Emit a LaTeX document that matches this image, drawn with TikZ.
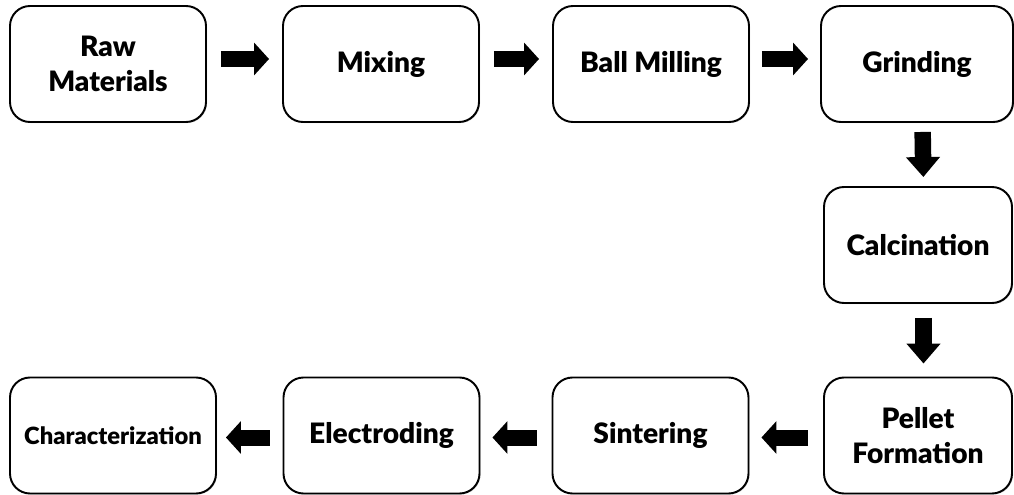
\documentclass[tikz,border=0pt]{standalone}
\usepackage{fontspec}
\setmainfont{Lato}[BoldFont={Lato Black}]
\usepackage{tikz}
\usetikzlibrary{arrows.meta,positioning,calc,shadows}

\begin{document}
\begin{tikzpicture}[font=\fontsize{16}{20}\selectfont\bfseries,
  stage/.style={draw=black,fill=white,line width=1.1pt,rounded corners=0.4cm,
                minimum width=3.92cm,minimum height=2.32cm,align=center,
                drop shadow={shadow xshift=0.6pt,shadow yshift=-0.6pt,opacity=0.35}},
  flow/.style={line width=0.32cm,-{Triangle[length=0.3cm,width=0.64cm]}},
  flowdown/.style={line width=0.33cm,-{Triangle[length=0.4cm,width=0.66cm]}}]

\useasboundingbox (0,0) rectangle (20.28,-9.9);

% ---------------- top row ---------------------------------------------------
\node[stage] (raw) at (2.16,-1.28) {Raw\\Materials};
\node[stage] (mix) at (7.62,-1.28) {Mixing};
\node[stage] (ball) at (13.02,-1.28) {Ball Milling};
\node[stage,minimum width=3.84cm] (grind) at (18.34,-1.28) {Grinding};

% ---------------- right column ----------------------------------------------
\node[stage,minimum width=3.76cm] (calc) at (18.36,-4.90) {Calcination};
\node[stage,minimum width=3.76cm] (pellet) at (18.36,-8.71) {Pellet\\Formation};

% ---------------- bottom row ------------------------------------------------
\node[stage] (sint) at (13.01,-8.71) {Sintering};
\node[stage] (elec) at (7.63,-8.71) {Electroding};
\node[stage,minimum width=4.12cm,font=\fontsize{13.5}{16}\selectfont\bfseries]
  (char) at (2.26,-8.71) {Characterization};

% ---------------- block arrows ----------------------------------------------
\draw[flow,shorten <=0.28cm,shorten >=0.26cm] ([yshift=0.1cm]raw.east) -- ([yshift=0.1cm]mix.west);
\draw[flow,shorten <=0.28cm,shorten >=0.26cm] ([yshift=0.1cm]mix.east) -- ([yshift=0.1cm]ball.west);
\draw[flow,shorten <=0.24cm,shorten >=0.24cm] ([yshift=0.1cm]ball.east) -- ([yshift=0.1cm]grind.west);
\draw[flowdown,shorten <=0.18cm,shorten >=0.18cm] ([xshift=0.11cm]grind.south) -- ([xshift=0.11cm]calc.north);
\draw[flowdown,shorten <=0.28cm,shorten >=0.26cm] ([xshift=0.11cm]calc.south) -- ([xshift=0.11cm]pellet.north);
\draw[flow,shorten <=0.3cm,shorten >=0.24cm] ([yshift=-0.04cm]pellet.west) -- ([yshift=-0.04cm]sint.east);
\draw[flow,shorten <=0.3cm,shorten >=0.24cm] ([yshift=-0.04cm]sint.west) -- ([yshift=-0.04cm]elec.east);
\draw[flow,shorten <=0.26cm,shorten >=0.18cm] ([yshift=-0.04cm]elec.west) -- ([yshift=-0.04cm]char.east);

\end{tikzpicture}
\end{document}
